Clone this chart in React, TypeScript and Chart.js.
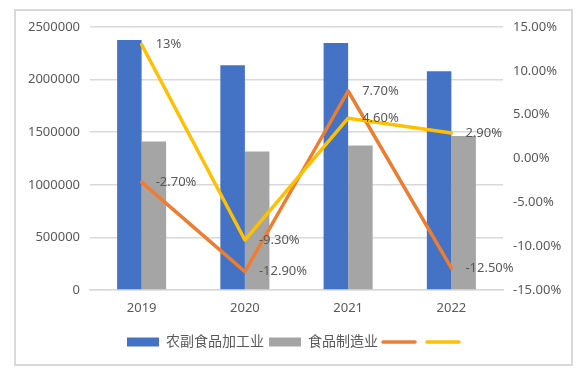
import React, { useEffect, useRef } from "react";
import { Chart, registerables } from "chart.js";

Chart.register(...registerables);

const categories = ["2019", "2020", "2021", "2022"];
const seriesNames = ["农副食品加工业", "食品制造业"];
const agriValues = [2376000, 2137000, 2347000, 2080000];
const foodValues = [1412000, 1317000, 1374000, 1463000];
const orangeRates = [-2.7, -12.9, 7.7, -12.5];
const yellowRates = [13, -9.3, 4.6, 2.9];
const orangeLabels = ["-2.70%", "-12.90%", "7.70%", "-12.50%"];
const yellowLabels = ["13%", "-9.30%", "4.60%", "2.90%"];

const BLUE = "#4472C4";
const GRAY = "#A5A5A5";
const ORANGE = "#ED7D31";
const YELLOW = "#FFC000";
const TEXT = "#595959";
const GRID = "#D9D9D9";
const FONT = "'Noto Sans', 'Noto Sans CJK SC', sans-serif";

const borderPlugin = {
  id: "outerBorder",
  beforeDraw(chart: any) {
    const ctx = chart.ctx;
    ctx.save();
    ctx.fillStyle = "#FFFFFF";
    ctx.fillRect(0, 0, chart.width, chart.height);
    ctx.strokeStyle = GRID;
    ctx.lineWidth = 2;
    ctx.strokeRect(15, 10, 557, 355);
    ctx.restore();
  },
};

const labelPlugin = {
  id: "pointLabels",
  afterDatasetsDraw(chart: any) {
    const ctx = chart.ctx;
    ctx.save();
    ctx.font = `13px ${FONT}`;
    ctx.fillStyle = TEXT;
    ctx.textAlign = "left";
    ctx.textBaseline = "middle";
    const sets: [number, string[]][] = [
      [2, orangeLabels],
      [3, yellowLabels],
    ];
    sets.forEach(([idx, labels]) => {
      const meta = chart.getDatasetMeta(idx);
      meta.data.forEach((pt: any, i: number) => {
        ctx.fillText(labels[i], pt.x + 14, pt.y);
      });
    });
    ctx.restore();
  },
};

export default function App() {
  const ref = useRef<HTMLCanvasElement | null>(null);
  useEffect(() => {
    if (!ref.current) return;
    const chart = new Chart(ref.current, {
      type: "bar",
      data: {
        labels: categories,
        datasets: [
          {
            type: "bar",
            label: seriesNames[0],
            data: agriValues,
            backgroundColor: BLUE,
            yAxisID: "y",
            order: 2,
            barPercentage: 1,
            categoryPercentage: 0.475,
          },
          {
            type: "bar",
            label: seriesNames[1],
            data: foodValues,
            backgroundColor: GRAY,
            yAxisID: "y",
            order: 2,
            barPercentage: 1,
            categoryPercentage: 0.475,
          },
          {
            type: "line",
            label: "",
            data: orangeRates,
            borderColor: ORANGE,
            backgroundColor: ORANGE,
            borderWidth: 3.5,
            pointRadius: 0,
            yAxisID: "y1",
            order: 1,
            borderJoinStyle: "round",
            borderCapStyle: "round",
          },
          {
            type: "line",
            label: "",
            data: yellowRates,
            borderColor: YELLOW,
            backgroundColor: YELLOW,
            borderWidth: 3.5,
            pointRadius: 0,
            yAxisID: "y1",
            order: 0,
            borderJoinStyle: "round",
            borderCapStyle: "round",
          },
        ] as any,
      },
      options: {
        animation: false,
        responsive: false,
        maintainAspectRatio: false,
        layout: { padding: { top: 27, bottom: 12, left: 10, right: 0 } },
        plugins: {
          tooltip: { enabled: false },
          legend: {
            position: "bottom",
            labels: {
              font: { family: FONT, size: 14 },
              color: TEXT,
              usePointStyle: true,
              pointStyleWidth: 32,
              boxWidth: 32,
              boxHeight: 9,
              padding: 5,
              generateLabels: () => [
                { text: seriesNames[0], fillStyle: BLUE, strokeStyle: BLUE, lineWidth: 0, pointStyle: "rect", datasetIndex: 0, fontColor: TEXT },
                { text: seriesNames[1], fillStyle: GRAY, strokeStyle: GRAY, lineWidth: 0, pointStyle: "rect", datasetIndex: 1, fontColor: TEXT },
                { text: "", fillStyle: ORANGE, strokeStyle: ORANGE, lineWidth: 3.5, lineCap: "round", pointStyle: "line", datasetIndex: 2, fontColor: TEXT },
                { text: "", fillStyle: YELLOW, strokeStyle: YELLOW, lineWidth: 3.5, lineCap: "round", pointStyle: "line", datasetIndex: 3, fontColor: TEXT },
              ] as any,
            },
          },
        },
        scales: {
          x: {
            grid: { display: false, drawTicks: false },
            border: { display: true, color: GRID, width: 1.5 },
            ticks: { color: TEXT, font: { family: FONT, size: 13 }, padding: 10 },
            afterFit: (s: any) => {
              s.height = 40;
            },
          },
          y: {
            position: "left",
            min: 0,
            max: 2500000,
            ticks: {
              stepSize: 500000,
              color: TEXT,
              font: { family: FONT, size: 13 },
              padding: 10,
              callback: (v: any) => String(v),
            },
            grid: { color: GRID, lineWidth: 1.5, drawTicks: false },
            border: { display: false },
            afterFit: (s: any) => {
              s.width = 80;
            },
          },
          y1: {
            position: "right",
            min: -15,
            max: 15,
            ticks: {
              stepSize: 5,
              color: TEXT,
              font: { family: FONT, size: 13 },
              padding: 10,
              callback: (v: any) => Number(v).toFixed(2) + "%",
            },
            grid: { display: false, drawTicks: false },
            border: { display: false },
            afterFit: (s: any) => {
              s.width = 80;
            },
          },
        },
      } as any,
      plugins: [borderPlugin, labelPlugin],
    });
    return () => chart.destroy();
  }, []);
  return (
    <div style={{ position: "absolute", left: 0, top: 0, width: 583, height: 371 }}>
      <canvas ref={ref} width={583} height={371} style={{ width: 583, height: 371, display: "block" }} />
    </div>
  );
}
